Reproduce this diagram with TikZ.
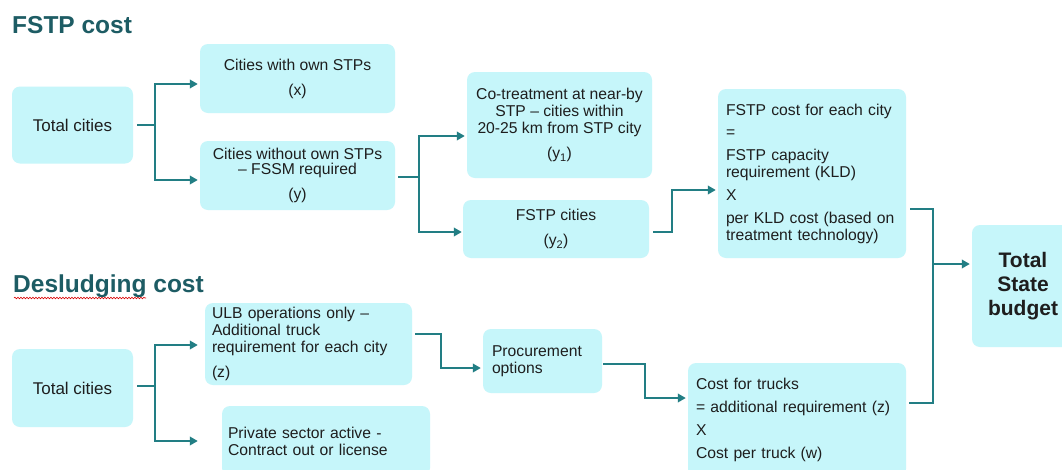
\documentclass[tikz,border=0pt]{standalone}
\usepackage{fontspec}
\setmainfont{Liberation Sans}
\usetikzlibrary{arrows.meta,decorations.pathmorphing}
\definecolor{boxfill}{RGB}{198,246,250}
\definecolor{linkteal}{RGB}{34,126,132}
\definecolor{titleteal}{RGB}{29,92,100}
\definecolor{bodytext}{RGB}{30,30,30}
\tikzset{
  box/.style={fill=boxfill, draw=none, rounded corners=8pt, inner sep=0pt,
    text=bodytext, font=\fontsize{15.7}{17}\selectfont, align=center},
  lbox/.style={box, align=left},
  title/.style={inner sep=0pt, anchor=base west, text=titleteal,
    font=\fontsize{24.5}{26}\selectfont\bfseries},
  link/.style={draw=linkteal, line width=2.4pt},
  alink/.style={link, -{Triangle[length=8pt,width=8.5pt]}},
}
\begin{document}
\begin{tikzpicture}[x=1pt,y=-1pt]
\useasboundingbox (0,0) rectangle (1062,469);
\fill[white] (0,0) rectangle (1062,469);
\clip (0,0) rectangle (1062,469);

% section titles
\node[title] (t1) at (12,33) {FSTP cost};
\node[title] (t2) at (13,292) {Desludging cost};
\draw[red!85!black, line width=0.6pt, decorate,
  decoration={snake, amplitude=0.8pt, segment length=3pt}] (14,298) -- (146,298);

% FSTP cost chain
\node[box, minimum width=121pt, minimum height=77pt, font=\fontsize{17}{19}\selectfont]
  (tc1) at (72.5,125) {Total cities};
\node[box, minimum width=195pt, minimum height=69pt]
  (own) at (297.5,78.5) {Cities with own STPs\\[8pt](x)};
\node[box, minimum width=195pt, minimum height=69pt]
  (wo) at (297.5,175.5) {Cities without own STPs\\[-2pt]-- FSSM required\\[8pt](y)};
\node[box, minimum width=185pt, minimum height=106pt]
  (cot) at (559.5,125) {Co-treatment at near-by\\STP -- cities within\\20-25 km from STP city\\[8pt](y\textsubscript{1})};
\node[box, minimum width=186pt, minimum height=58pt]
  (fc) at (556,229) {FSTP cities\\[8pt](y\textsubscript{2})};
\node[lbox, minimum width=188pt, minimum height=169pt, text width=172pt]
  (cost) at (812,173.5) {FSTP cost for each city\\[5pt]=\\[6pt]FSTP capacity\\requirement (KLD)\\[6pt]X\\[6pt]per KLD cost (based on\\treatment technology)};
\node[box, minimum width=102pt, minimum height=122pt,
  font=\fontsize{21}{24}\selectfont\bfseries]
  (tsb) at (1023,286) {Total\\State\\budget};

% Desludging cost chain
\node[box, minimum width=121pt, minimum height=78pt, font=\fontsize{17}{19}\selectfont]
  (tc2) at (72.5,388) {Total cities};
\node[lbox, minimum width=207pt, minimum height=82pt, text width=193pt]
  (ulb) at (308.5,344) {ULB operations only --\\Additional truck\\requirement for each city\\[8pt](z)};
\node[lbox, minimum width=208pt, minimum height=70pt, text width=196pt]
  (priv) at (326,441) {Private sector active -\\Contract out or license};
\node[lbox, minimum width=119pt, minimum height=64pt, text width=101pt]
  (proc) at (542.5,361) {Procurement\\options};
\node[lbox, minimum width=218pt, minimum height=114pt, text width=202pt]
  (trk) at (797,420) {Cost for trucks\\[6pt]= additional requirement (z)\\[6pt]X\\[6pt]Cost per truck (w)};

% connectors: FSTP cost
\draw[link] ([xshift=4pt]tc1.east) -- ++(18pt,0) coordinate (b1);
\draw[alink] (b1) |- ([xshift=-2pt,yshift=-5.5pt]own.west);
\draw[alink] (b1) |- ([xshift=-2pt,yshift=-4.5pt]wo.west);

\draw[link] ([xshift=3pt,yshift=-1.5pt]wo.east) -- ++(21pt,0) coordinate (b2);
\draw[alink] (b2) |- ([xshift=-2pt,yshift=-11pt]cot.west);
\draw[alink] (b2) |- ([xshift=-1pt,yshift=-3pt]fc.west);

\draw[alink] ([xshift=4pt,yshift=-3pt]fc.east) -- ++(19pt,0) |- ([xshift=-2pt,yshift=-16.5pt]cost.west);

\coordinate (m) at (933,264);
\draw[link] ([xshift=4pt,yshift=-35.5pt]cost.east) -| (m);
\draw[link] ([xshift=3pt,yshift=17pt]trk.east) -| (m);
\draw[alink] (m) -- ([xshift=-2pt,yshift=22pt]tsb.west);

% connectors: Desludging cost
\draw[link] ([xshift=4pt,yshift=2pt]tc2.east) -- ++(18pt,0) coordinate (b3);
\draw[alink] (b3) |- ([xshift=-7pt,yshift=-1pt]ulb.west);
\draw[alink] (b3) |- ([xshift=-24pt]priv.west);

\draw[alink] ([xshift=3pt,yshift=10pt]ulb.east) -- ++(26pt,0) |- ([xshift=-2pt,yshift=-7pt]proc.west);
\draw[alink] ([xshift=1pt,yshift=-3pt]proc.east) -- ++(42pt,0) |- ([xshift=-2pt,yshift=22pt]trk.west);
\end{tikzpicture}
\end{document}
